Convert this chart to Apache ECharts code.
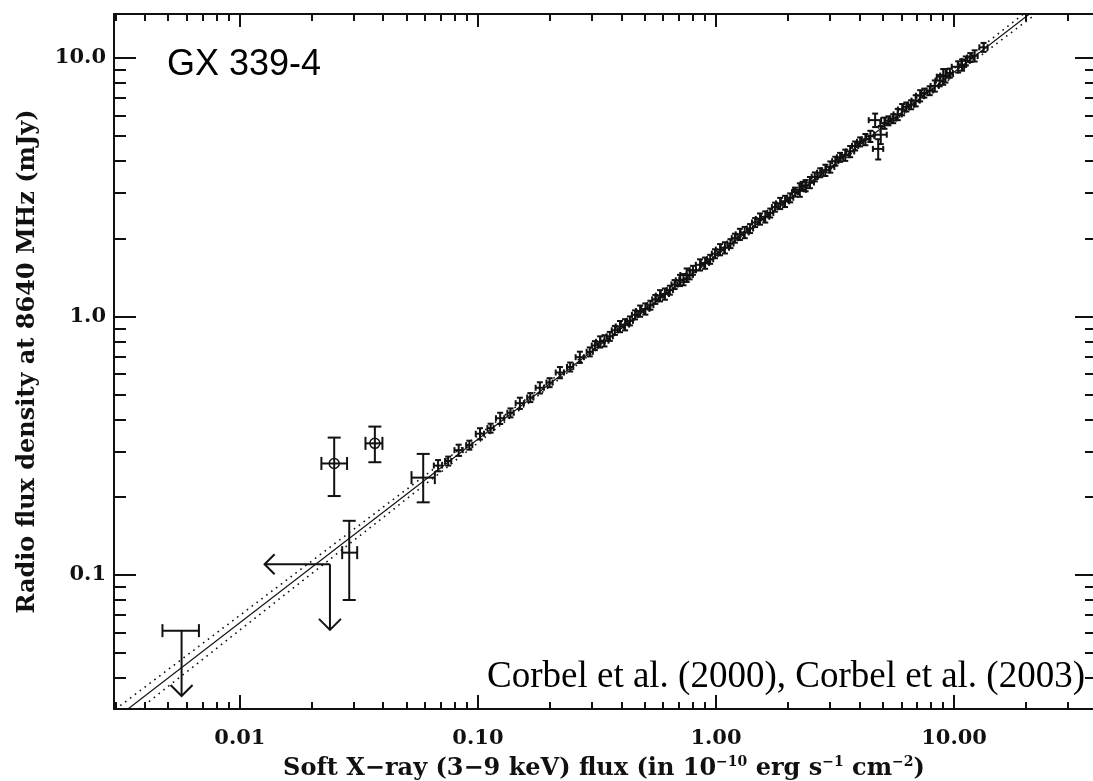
<!DOCTYPE html>
<html><head><meta charset="utf-8">
<script src="https://cdn.jsdelivr.net/npm/echarts@6/dist/echarts.min.js"></script>
<style>html,body{margin:0;padding:0;background:#fff}#c{width:1093px;height:781px}</style>
</head><body><div id="c"></div>
<script>
// ---------------- data ----------------
const xRange = [0.00296, 38.7];
const yRange = [0.0303, 14.8];
const xTickMajor = [0.01, 0.1, 1, 10];
const xTickLabels = ['0.01', '0.10', '1.00', '10.00'];
const xTickMinor = [0.003,0.004,0.005,0.006,0.007,0.008,0.009,0.02,0.03,0.04,0.05,0.06,0.07,0.08,0.09,0.2,0.3,0.4,0.5,0.6,0.7,0.8,0.9,2,3,4,5,6,7,8,9,20,30];
const yTickMajor = [0.1, 1, 10];
const yTickLabels = ['0.1', '1.0', '10.0'];
const yTickMinor = [0.04,0.05,0.06,0.07,0.08,0.09,0.2,0.3,0.4,0.5,0.6,0.7,0.8,0.9,2,3,4,5,6,7,8,9];

// fitted relation and its uncertainty envelope (end points)
const fitX = [0.003, 40];
const fitY = [0.0278, 23.6];
const fitHiSlopeY = [0.0256, 24.85];
const fitLoSlopeY = [0.0302, 22.4];

// circled detections
const circX = [0.0249, 0.0369];
const circY = [0.270, 0.323];
const circXLo = [0.0220, 0.0337];
const circXHi = [0.0282, 0.0397];
const circYLo = [0.202, 0.273];
const circYHi = [0.340, 0.375];

// isolated detections
const ptX = [0.0288, 0.0589];
const ptY = [0.122, 0.238];
const ptXLo = [0.0269, 0.0526];
const ptXHi = [0.0311, 0.0659];
const ptYLo = [0.080, 0.191];
const ptYHi = [0.162, 0.294];

// radio upper limit (with X-ray error)
const ulX = [0.00569];
const ulY = [0.0609];
const ulXLo = [0.00473];
const ulXHi = [0.00673];
const ulYArrow = [0.034];

// upper limits in both X-ray and radio
const ul2X = [0.0239];
const ul2Y = [0.110];
const ul2XArrow = [0.0127];
const ul2YArrow = [0.0613];

// dense hard-state monitoring points
const chainX = [0.068,0.075,0.083,0.092,0.102,0.113,0.124,0.137,0.150,0.166,0.182,0.200,0.221,0.244,0.268,0.295,0.326,0.358,0.395,0.435,0.480,0.530,0.582,0.640,0.706,0.753,0.775,0.857,0.945,1.04,1.15,1.26,1.39,1.53,1.69,1.86,2.05,2.25,2.31,2.48,2.74,3.02,3.32,3.66,4.03,4.45,4.66,4.80,4.92,5.10,5.55,6.05,6.6,7.2,7.9,8.7,9.0,9.2,10.4,11.2,12.2,13.3,
  0.31,0.34,0.376,0.415,0.457,0.505,0.556,0.61,0.67,0.73,0.80,0.90,0.99,1.09,1.20,1.32,1.46,1.61,1.77,1.95,2.15,2.38,2.6,2.88,3.17,3.49,3.84,4.24,5.3,5.8,6.3,6.9,7.5,8.3,9.6,10.8,11.7];
const chainY = [0.265,0.276,0.304,0.318,0.352,0.370,0.404,0.424,0.462,0.486,0.530,0.555,0.607,0.638,0.696,0.730,0.798,0.838,0.915,0.962,1.05,1.106,1.204,1.265,1.380,1.447,1.45,1.585,1.665,1.815,1.915,2.08,2.19,2.385,2.515,2.74,2.88,3.09,3.19,3.30,3.60,3.79,4.13,4.35,4.74,4.98,5.75,4.45,5.05,5.60,5.83,6.32,6.60,7.15,7.48,8.18,8.47,8.55,9.25,9.75,10.2,11.0,
  0.772,0.806,0.884,0.93,1.015,1.07,1.165,1.222,1.33,1.39,1.51,1.61,1.75,1.845,2.01,2.115,2.31,2.43,2.65,2.79,3.03,3.21,3.47,3.68,3.99,4.21,4.57,4.84,5.72,6.05,6.47,6.84,7.32,7.80,8.75,9.40,10.05];
const chainXErrPct = [4,3,4,3,4,3,4,3,4,3,4,3,4,3,4,3,4,3,4,3,4,3,4,3,4,6,3,4,3,4,3,4,3,4,3,4,3,6,3,4,3,4,3,4,3,4,6,5,6,4,3,4,3,4,3,4,6,5,6,4,3,4,
  3,4,3,4,3,4,3,4,3,4,3,4,3,4,3,4,3,4,3,4,3,4,3,4,3,4,3,4,3,4,3,4,3,4,3,4,3];
const chainYErrPct = [5,4,5,4,5,4,5,4,5,4,5,4,5,4,5,4,5,4,5,4,5,4,5,4,5,6,4,5,4,5,4,5,4,5,4,5,4,6,4,5,4,5,4,5,4,5,6,9,8,5,4,5,4,5,4,5,7,6,5,4,5,4,
  4,5,4,5,4,5,4,5,4,5,4,5,4,5,4,5,4,5,4,5,4,5,4,5,4,5,4,5,4,5,4,5,4,5,4,5,4];

// ---------------- chart ----------------
const INK = '#111';
const FONT = "'DejaVu Serif', serif";

function labelFor(values, labels) {
  return function (v) {
    let best = 0, bd = Infinity;
    values.forEach((t, i) => { const d = Math.abs(Math.log10(v) - Math.log10(t)); if (d < bd) { bd = d; best = i; } });
    return labels[best];
  };
}

function seg(x1, y1, x2, y2, w) {
  return { type: 'line', shape: { x1, y1, x2, y2 }, style: { stroke: INK, lineWidth: w || 2, fill: null } };
}

function errItem(cap, circleR) {
  return function (params, api) {
    const x = api.value(0), y = api.value(1);
    const c = api.coord([x, y]);
    const a = api.coord([api.value(2), y]), b = api.coord([api.value(3), y]);
    const lo = api.coord([x, api.value(4)]), hi = api.coord([x, api.value(5)]);
    const h = cap / 2;
    const ch = [
      seg(a[0], c[1], b[0], c[1]),
      seg(a[0], c[1] - h, a[0], c[1] + h),
      seg(b[0], c[1] - h, b[0], c[1] + h),
      seg(c[0], lo[1], c[0], hi[1]),
      seg(c[0] - h, lo[1], c[0] + h, lo[1]),
      seg(c[0] - h, hi[1], c[0] + h, hi[1])
    ];
    if (circleR) ch.push({ type: 'circle', shape: { cx: c[0], cy: c[1], r: circleR }, style: { stroke: INK, lineWidth: 1.5, fill: null } });
    return { type: 'group', children: ch };
  };
}

function arrowDown(p, s) { return { type: 'polyline', shape: { points: [[p[0] - s, p[1] - s], p, [p[0] + s, p[1] - s]] }, style: { stroke: INK, lineWidth: 2, fill: null } }; }
function arrowLeft(p, s) { return { type: 'polyline', shape: { points: [[p[0] + s, p[1] - s], p, [p[0] + s, p[1] + s]] }, style: { stroke: INK, lineWidth: 2, fill: null } }; }

const circData = circX.map((x, i) => [x, circY[i], circXLo[i], circXHi[i], circYLo[i], circYHi[i]]);
const ptData = ptX.map((x, i) => [x, ptY[i], ptXLo[i], ptXHi[i], ptYLo[i], ptYHi[i]]);
const chainData = chainX.map((x, i) => {
  const y = chainY[i], ex = x * chainXErrPct[i] / 100, ey = y * chainYErrPct[i] / 100;
  return [x, y, x - ex, x + ex, y - ey, y + ey];
});
const ulData = ulX.map((x, i) => [x, ulY[i], ulXLo[i], ulXHi[i], ulYArrow[i]]);
const ul2Data = ul2X.map((x, i) => [x, ul2Y[i], ul2XArrow[i], ul2YArrow[i]]);

const tickStyle = { color: INK, width: 2 };
const tickLabelStyle = { color: INK, fontFamily: FONT, fontSize: 21, fontWeight: 'bold' };
function xAx(pos, len, vals, withLine, withLabel, extra) {
  return Object.assign({
    type: 'log', position: pos, min: xRange[0], max: xRange[1], logBase: 10,
    axisLine: { show: withLine, onZero: false, lineStyle: { color: INK, width: 2 } },
    axisTick: { show: true, inside: true, length: len, customValues: vals, lineStyle: tickStyle },
    axisLabel: withLabel ? Object.assign({ show: true, customValues: xTickMajor, formatter: labelFor(xTickMajor, xTickLabels), margin: 19 }, tickLabelStyle) : { show: false },
    splitLine: { show: false }, minorTick: { show: false }
  }, extra || {});
}
function yAx(pos, len, vals, withLine, withLabel, extra) {
  return Object.assign({
    type: 'log', position: pos, min: yRange[0], max: yRange[1], logBase: 10,
    axisLine: { show: withLine, onZero: false, lineStyle: { color: INK, width: 2 } },
    axisTick: { show: true, inside: true, length: len, customValues: vals, lineStyle: tickStyle },
    axisLabel: withLabel ? Object.assign({ show: true, customValues: yTickMajor, formatter: labelFor(yTickMajor, yTickLabels), margin: 8 }, tickLabelStyle) : { show: false },
    splitLine: { show: false }, minorTick: { show: false }
  }, extra || {});
}

const option = {
  backgroundColor: '#fff',
  animation: false,
  grid: { left: 114, top: 14, width: 980, height: 695, containLabel: false, outerBoundsMode: 'none' },
  xAxis: [
    xAx('bottom', 14, xTickMajor, true, true, {
      name: '{b|Soft X−ray (3−9 keV) flux (in 10}{s|−10}{b| erg s}{s|−1}{b| cm}{s|−2}{b|)}',
      nameLocation: 'middle', nameGap: 42,
      nameTextStyle: { rich: {
        b: { fontFamily: FONT, fontSize: 24, fontWeight: 'bold', color: INK, lineHeight: 30, verticalAlign: 'bottom' },
        s: { fontFamily: FONT, fontSize: 14, fontWeight: 'bold', color: INK, lineHeight: 30, verticalAlign: 'bottom', padding: [0, 0, 12, 0] }
      } }
    }),
    xAx('bottom', 7, xTickMinor, false, false),
    xAx('top', 13, xTickMajor, true, false),
    xAx('top', 7, xTickMinor, false, false)
  ],
  yAxis: [
    yAx('left', 22, yTickMajor, true, true, {
      name: 'Radio flux density at 8640 MHz (mJy)', nameLocation: 'middle', nameGap: 74,
      nameTextStyle: { fontFamily: FONT, fontSize: 24, fontWeight: 'bold', color: INK }
    }),
    yAx('left', 12, yTickMinor, false, false),
    yAx('right', 19, yTickMajor, false, false),
    yAx('right', 9, yTickMinor, false, false)
  ],
  series: [
    { type: 'line', name: 'fit', data: fitX.map((x, i) => [x, fitY[i]]), showSymbol: false, symbol: 'none', clip: true,
      lineStyle: { color: INK, width: 1.2 } },
    { type: 'line', name: 'fit+', data: fitX.map((x, i) => [x, fitHiSlopeY[i]]), showSymbol: false, symbol: 'none', clip: true,
      lineStyle: { color: INK, width: 1.6, type: [1.6, 4.5] } },
    { type: 'line', name: 'fit-', data: fitX.map((x, i) => [x, fitLoSlopeY[i]]), showSymbol: false, symbol: 'none', clip: true,
      lineStyle: { color: INK, width: 1.6, type: [1.6, 4.5] } },
    { type: 'custom', name: 'chain', data: chainData, encode: { x: 0, y: 1 }, clip: true, renderItem: errItem(6, 0) },
    { type: 'custom', name: 'pts', data: ptData, encode: { x: 0, y: 1 }, clip: true, renderItem: errItem(13, 0) },
    { type: 'custom', name: 'circ', data: circData, encode: { x: 0, y: 1 }, clip: true, renderItem: errItem(13, 5) },
    { type: 'custom', name: 'ul', data: ulData, encode: { x: 0, y: 1 }, clip: true,
      renderItem: function (params, api) {
        const x = api.value(0), y = api.value(1);
        const c = api.coord([x, y]), a = api.coord([api.value(2), y]), b = api.coord([api.value(3), y]);
        const t = api.coord([x, api.value(4)]);
        return { type: 'group', children: [
          seg(a[0], c[1], b[0], c[1]), seg(a[0], c[1] - 6.5, a[0], c[1] + 6.5), seg(b[0], c[1] - 6.5, b[0], c[1] + 6.5),
          seg(c[0], c[1], t[0], t[1]), arrowDown(t, 11)
        ] };
      } },
    { type: 'custom', name: 'ul2', data: ul2Data, encode: { x: 0, y: 1 }, clip: true,
      renderItem: function (params, api) {
        const x = api.value(0), y = api.value(1);
        const c = api.coord([x, y]), l = api.coord([api.value(2), y]), d = api.coord([x, api.value(3)]);
        return { type: 'group', children: [
          seg(l[0], c[1], c[0], c[1]), arrowLeft(l, 10),
          seg(c[0], c[1], d[0], d[1]), arrowDown(d, 11)
        ] };
      } }
  ],
  graphic: [
    { type: 'text', left: 167, top: 47, style: { text: 'GX 339-4', font: "36px 'Liberation Sans', Arial, sans-serif", fill: '#000' } },
    { type: 'text', right: 8, top: 659, style: { text: 'Corbel et al. (2000), Corbel et al. (2003)', font: "37px 'Liberation Serif', 'Times New Roman', serif", fill: '#000' } }
  ]
};

const chart = echarts.init(document.getElementById('c'), null, { renderer: 'canvas' });
chart.setOption(option);
</script>
</body></html>
